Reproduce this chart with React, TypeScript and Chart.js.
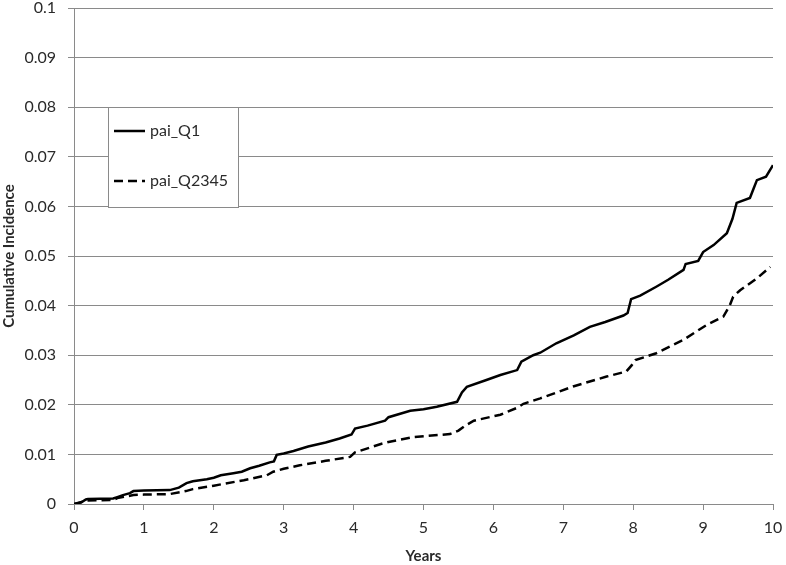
import React, { useEffect, useRef } from "react";
import { Chart, registerables } from "chart.js";

Chart.register(...registerables);

const q1Years = [0, 0.1, 0.17, 0.2, 0.56, 0.62, 0.7, 0.8, 0.85, 1.0, 1.37, 1.5, 1.61, 1.7, 1.9, 2.0, 2.1, 2.28, 2.4, 2.52, 2.65, 2.8, 2.86, 2.9, 3.0, 3.14, 3.35, 3.6, 3.8, 3.97, 4.02, 4.2, 4.45, 4.5, 4.81, 5.0, 5.19, 5.48, 5.55, 5.62, 5.9, 6.1, 6.34, 6.4, 6.57, 6.67, 6.9, 7.15, 7.38, 7.6, 7.86, 7.92, 7.97, 8.1, 8.33, 8.5, 8.72, 8.75, 8.93, 9.0, 9.15, 9.34, 9.42, 9.48, 9.67, 9.72, 9.77, 9.9, 10.0];
const q1Values = [0, 0.0003, 0.0009, 0.001, 0.0011, 0.0014, 0.0018, 0.0022, 0.0026, 0.0027, 0.0028, 0.0033, 0.0042, 0.0046, 0.005, 0.0053, 0.0058, 0.0062, 0.0065, 0.0072, 0.0077, 0.0084, 0.0086, 0.0099, 0.0102, 0.0107, 0.0116, 0.0124, 0.0132, 0.014, 0.0152, 0.0158, 0.0168, 0.0175, 0.0188, 0.0191, 0.0196, 0.0206, 0.0225, 0.0236, 0.025, 0.026, 0.027, 0.0287, 0.03, 0.0305, 0.0324, 0.034, 0.0357, 0.0367, 0.038, 0.0385, 0.0413, 0.042, 0.0438, 0.0452, 0.0472, 0.0484, 0.049, 0.0508, 0.0522, 0.0546, 0.0575, 0.0607, 0.0617, 0.0635, 0.0653, 0.066, 0.0683];

const q2345Years = [0, 0.18, 0.56, 0.62, 0.85, 1.0, 1.37, 1.6, 1.7, 2.0, 2.43, 2.76, 2.85, 3.0, 3.23, 3.6, 3.95, 4.02, 4.39, 4.5, 4.86, 5.38, 5.5, 5.6, 5.72, 6.1, 6.34, 6.43, 6.67, 6.81, 7.14, 7.62, 7.9, 7.98, 8.03, 8.33, 8.72, 9.05, 9.29, 9.38, 9.43, 9.53, 9.77, 9.96];
const q2345Values = [0, 0.0007, 0.0008, 0.0012, 0.0018, 0.0019, 0.002, 0.0026, 0.003, 0.0037, 0.0048, 0.0058, 0.0065, 0.0071, 0.0078, 0.0087, 0.0095, 0.0104, 0.0121, 0.0125, 0.0135, 0.0141, 0.0148, 0.0158, 0.0168, 0.018, 0.0194, 0.0202, 0.0213, 0.022, 0.0237, 0.0257, 0.0267, 0.028, 0.029, 0.0304, 0.0331, 0.0361, 0.0378, 0.04, 0.0418, 0.0431, 0.0455, 0.0478];

const seriesNames = ["pai_Q1", "pai_Q2345"];
const xTitle = "Years";
const yTitle = "Cumulative Incidence";

const FONT = "Lato, 'Open Sans', sans-serif";
const TEXT = "#2a2a2a";
const GRID = "#8a8a8a";

const legendBoxPlugin = {
  id: "legendBox",
  afterDatasetsDraw(chart: any) {
    const ctx = chart.ctx;
    const x0 = 108, y0 = 107, w = 130, h = 100;
    ctx.save();
    ctx.fillStyle = "#ffffff";
    ctx.fillRect(x0, y0, w, h);
    ctx.strokeStyle = GRID;
    ctx.lineWidth = 1;
    ctx.strokeRect(x0 + 0.5, y0 + 0.5, w, h);
    const rows = [131, 181];
    chart.data.datasets.forEach((ds: any, i: number) => {
      const y = rows[i];
      ctx.beginPath();
      ctx.strokeStyle = ds.borderColor;
      ctx.lineWidth = ds.borderWidth;
      ctx.setLineDash(ds.borderDash || []);
      ctx.moveTo(114, y);
      ctx.lineTo(145, y);
      ctx.stroke();
      ctx.setLineDash([]);
      ctx.fillStyle = TEXT;
      ctx.font = `16px ${FONT}`;
      ctx.textBaseline = "middle";
      ctx.textAlign = "left";
      ctx.fillText(ds.label, 150, y);
    });
    ctx.restore();
  },
};

export default function App() {
  const ref = useRef<HTMLCanvasElement>(null);
  useEffect(() => {
    if (!ref.current) return;
    const chart = new Chart(ref.current, {
      type: "line",
      data: {
        datasets: [
          {
            label: seriesNames[0],
            data: q1Years.map((x, i) => ({ x, y: q1Values[i] })),
            borderColor: "#000000",
            borderWidth: 2.5,
            pointRadius: 0,
            tension: 0,
            fill: false,
          },
          {
            label: seriesNames[1],
            data: q2345Years.map((x, i) => ({ x, y: q2345Values[i] })),
            borderColor: "#000000",
            borderWidth: 2.5,
            borderDash: [9, 5],
            pointRadius: 0,
            tension: 0,
            fill: false,
          },
        ],
      },
      plugins: [legendBoxPlugin],
      options: {
        animation: false,
        responsive: false,
        maintainAspectRatio: false,
        layout: { padding: { top: 8, right: 13, left: 0, bottom: 0 } },
        plugins: {
          legend: { display: false },
          tooltip: { enabled: false },
        },
        scales: {
          x: {
            type: "linear",
            min: 0,
            max: 10,
            ticks: { stepSize: 1, color: TEXT, font: { family: FONT, size: 16 }, padding: 8 },
            grid: { drawOnChartArea: false, drawTicks: true, tickLength: 6, color: GRID },
            border: { display: true, color: GRID, width: 1 },
            title: { display: true, text: xTitle, color: TEXT, font: { family: FONT, size: 15, weight: "bold" }, padding: { top: 0, bottom: 0 } },
            afterFit: (s: any) => { s.height = 61; s.paddingLeft = 0; s.paddingRight = 0; },
          },
          y: {
            min: 0,
            max: 0.1,
            ticks: {
              stepSize: 0.01,
              color: TEXT,
              font: { family: FONT, size: 16 },
              padding: 12,
              callback: (v: any) => String(parseFloat(Number(v).toFixed(4))),
            },
            grid: { drawOnChartArea: true, drawTicks: true, tickLength: 6, color: GRID },
            border: { display: true, color: GRID, width: 1 },
            title: { display: true, text: yTitle, color: TEXT, font: { family: FONT, size: 15, weight: "bold" }, padding: { top: 0, bottom: 2 } },
            afterFit: (s: any) => { s.width = 74; s.paddingTop = 0; s.paddingBottom = 0; },
          },
        },
      },
    });
    return () => chart.destroy();
  }, []);
  return (
    <div style={{ position: "absolute", left: 0, top: 0, width: 786, height: 565, background: "#fff" }}>
      <canvas ref={ref} width={786} height={565} style={{ display: "block" }} />
    </div>
  );
}
